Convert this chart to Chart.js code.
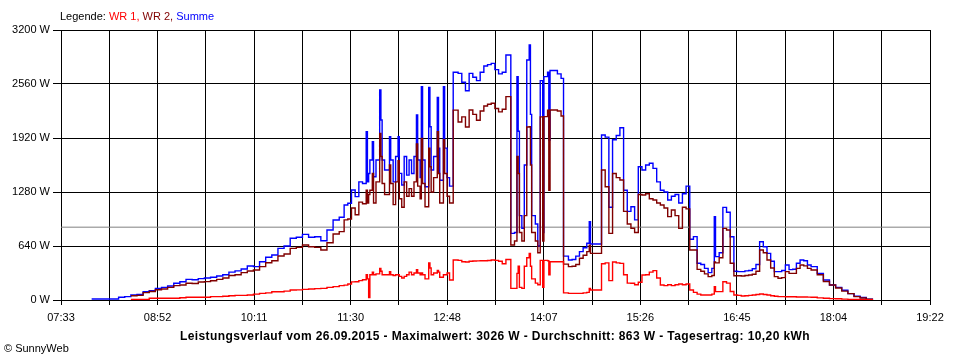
<!DOCTYPE html>
<html>
<head>
<meta charset="utf-8">
<script src="https://cdn.jsdelivr.net/npm/chart.js@4.4.1/dist/chart.umd.min.js"></script>
<style>
  body{margin:0;background:#fff;width:960px;height:360px;position:relative;overflow:hidden;font-family:"Liberation Sans",Arial,sans-serif;color:#000}
  #box{position:absolute;left:0;top:0;width:960px;height:360px}
  #legend{position:absolute;left:60px;top:10px;font-size:11px;white-space:nowrap}
  #caption{position:absolute;left:0;width:990px;top:329px;text-align:center;font-size:12px;letter-spacing:0.4px;font-weight:bold;white-space:nowrap}
  #copy{position:absolute;left:4px;top:342px;font-size:11px;white-space:nowrap}
</style>
</head>
<body>
<div id="box"><canvas id="chart" width="960" height="360"></canvas></div>
<div id="legend">Legende: <span style="color:#ff0000">WR 1,</span> <span style="color:#800000">WR 2,</span> <span style="color:#0000ff">Summe</span></div>
<div id="caption">Leistungsverlauf vom 26.09.2015 - Maximalwert: 3026 W - Durchschnitt: 863 W - Tagesertrag: 10,20 kWh</div>
<div id="copy">&copy; SunnyWeb</div>
<script>
// x axis: 07:33 .. 19:22, labels on every second grid line
const xLabels = ['07:33','08:52','10:11','11:30','12:48','14:07','15:26','16:45','18:04','19:22'];
const yTicks = [0, 640, 1280, 1920, 2560, 3200];
const average = 863; // W, grey line

// sample times (one row per block)
const times = [
  '07:58','08:05','08:10','08:15','08:20','08:25','08:30','08:35','08:40','08:45','08:50','08:55',
  '09:00','09:05','09:10','09:15','09:20','09:25','09:30','09:35','09:40','09:45','09:50','09:55',
  '10:00','10:05','10:10','10:15','10:20','10:25','10:30','10:35','10:40','10:45','10:50','10:55',
  '11:00','11:05','11:10','11:15','11:20','11:24','11:27','11:30','11:33','11:36','11:39','11:42','11:43','11:44','11:45','11:47','11:48','11:50','11:53','11:54','11:55','11:57',
  '12:01','12:02','12:04','12:06','12:08','12:09','12:11','12:13','12:15','12:17','12:19','12:21','12:23','12:24','12:26','12:27','12:28','12:30','12:33','12:34','12:35','12:37','12:40','12:41','12:42','12:45','12:46','12:48','12:50','12:53','12:57',
  '13:00','13:03','13:06','13:09','13:12','13:15','13:18','13:21','13:24','13:27','13:30','13:33','13:36','13:40','13:43','13:45','13:46','13:47','13:49','13:51','13:53','13:55','13:56','13:57',
  '14:00','14:02','14:04','14:06','14:07','14:10','14:11','14:12','14:18','14:21','14:23','14:27','14:30','14:33','14:36','14:39','14:42','14:44','14:45','14:54','14:57',
  '15:00','15:03','15:06','15:09','15:12','15:15','15:18','15:21','15:24','15:27','15:30','15:33','15:36','15:39','15:42','15:45','15:48','15:51','15:54','15:57',
  '16:00','16:03','16:06','16:09','16:12','16:15','16:18','16:21','16:24','16:26','16:27','16:30','16:33','16:36','16:39','16:42','16:45','16:48','16:51','16:54','16:57',
  '17:00','17:03','17:06','17:09','17:12','17:15','17:18','17:21','17:24','17:27','17:30','17:33','17:36','17:39','17:42','17:45',
  '17:50','17:55','18:00','18:05','18:10','18:15','18:20','18:25','18:30','18:35'
];

// WR 1 (W)
const wr1 = [
  null,null,null,null,null,null,8,8,8,20,20,20,
  20,20,26,32,32,32,32,40,40,45,50,55,
  55,60,70,79,85,98,98,105,118,120,126,130,
  135,138,150,158,170,176,190,215,217,230,240,300,250,30,300,330,300,310,375,340,300,300,
  336,300,290,300,300,280,260,280,300,330,300,320,360,320,300,320,300,250,440,380,300,320,350,330,270,300,300,320,237,474,470,
  454,450,460,462,464,466,466,468,474,470,460,430,480,138,138,316,400,150,138,400,500,553,400,250,
  200,180,470,150,470,465,300,454,454,454,85,79,79,79,79,85,90,138,119,430,440,
  230,450,440,434,300,200,198,180,210,296,300,330,348,260,178,170,180,170,180,190,
  180,190,119,90,70,59,59,59,70,158,99,99,217,200,100,59,55,47,50,55,59,
  65,71,65,60,50,45,40,40,38,38,38,36,36,35,34,32,
  25,20,16,14,10,8,6,4,3,1
];

// WR 2 (W)
const wr2 = [
  null,null,null,null,null,null,50,55,87,100,122,130,
  150,170,178,198,195,213,218,229,245,260,290,300,
  324,344,356,395,442,466,521,545,612,624,652,632,
  624,593,679,782,810,950,960,1090,1010,1160,1140,1300,1150,1250,1300,1500,1150,1400,1975,1700,1380,1250,
  1600,1380,1130,1400,1650,1200,1100,1400,1230,1320,1230,1400,1850,1350,1200,1916,1380,1106,1800,1580,1280,1450,1995,1500,1150,1900,1500,1230,1150,2250,2110,
  2170,2050,2252,2200,2130,2240,2300,2320,2331,2270,2230,2260,2410,652,700,1700,1500,800,700,1000,2050,2054,1600,800,
  700,560,2170,700,2173,2250,1300,2252,2240,2180,425,395,400,420,494,530,573,650,553,1540,1343,
  790,1500,1450,1422,1050,900,850,800,1250,1244,1260,1200,1185,1150,1126,1090,988,1067,1000,849,
  1100,1080,593,593,363,340,310,277,290,450,440,500,849,830,435,288,288,284,290,296,305,
  340,593,560,474,380,277,257,265,336,316,316,375,415,405,375,356,
  300,220,178,142,105,75,40,24,10,4
];

// Summe (W)
const summe = [
  12,12,12,12,32,40,59,65,98,110,138,150,
  166,198,217,245,240,253,260,269,285,300,330,345,
  367,403,395,454,506,533,612,640,731,743,778,743,
  750,703,830,948,980,1126,1146,1304,1225,1400,1380,1995,1400,1500,1659,1876,1460,1660,2489,2133,1660,1541,
  1935,1660,1400,1700,1935,1501,1363,1700,1480,1660,1500,1700,2193,1660,1450,2528,1660,1343,2520,2054,1541,1700,2400,1800,1420,2528,1800,1450,1350,2700,2686,
  2580,2480,2686,2640,2600,2700,2773,2790,2805,2730,2680,2700,2904,790,800,2647,2000,1000,850,1600,2845,3022,2200,1000,
  900,640,2600,800,2647,2700,1896,2720,2680,2627,520,474,480,520,573,620,672,928,664,1955,1930,
  1100,1900,1950,2042,1300,1050,1106,950,1580,1541,1600,1620,1560,1400,1300,1280,1185,1230,1250,1150,
  1260,1350,720,751,435,420,375,324,375,988,514,560,1098,1040,750,340,336,336,345,350,370,
  420,691,632,553,460,336,336,350,415,360,365,435,474,465,415,395,
  316,237,178,150,115,75,45,30,10,5
];

const toMin = s=>{ const [h,m] = s.split(':').map(Number); return h*60+m; };
const xStart = toMin(xLabels[0]), xEnd = toMin(xLabels[xLabels.length-1]);
const xs = times.map(toMin);
const pts = arr=>arr.map((v,i)=>({x:xs[i], y:v}));

new Chart(document.getElementById('chart'), {
  type:'line',
  data:{datasets:[
    {label:'WR 1', data:pts(wr1), borderColor:'#ff0000', order:1},
    {label:'WR 2', data:pts(wr2), borderColor:'#800000', order:2},
    {label:'Summe', data:pts(summe), borderColor:'#0000ff', order:3},
    {label:'Durchschnitt', data:[{x:xStart,y:average},{x:xEnd,y:average}], borderColor:'#808080', borderWidth:1, stepped:false, order:4}
  ]},
  options:{
    responsive:false, animation:false,
    layout:{padding:{left:0, right:30, top:30, bottom:0}},
    elements:{line:{borderWidth:1.4, stepped:true, tension:0}, point:{radius:0, hitRadius:0}},
    plugins:{legend:{display:false}, tooltip:{enabled:false}},
    scales:{
      x:{
        type:'linear', min:xStart, max:xEnd,
        afterBuildTicks:s=>{
          const n = (xLabels.length-1)*2;
          s.ticks = Array.from({length:n+1}, (_,i)=>({value: xStart + i*(xEnd-xStart)/n}));
        },
        afterFit:s=>{ s.height = 60; },
        ticks:{autoSkip:false, maxRotation:0, color:'#000', padding:6,
          font:{family:'"Liberation Sans", Arial, sans-serif', size:11},
          callback:(v,i)=> i%2===0 ? xLabels[i/2] : ''},
        grid:{color:'#000', lineWidth:1, tickLength:5},
        border:{color:'#000'}
      },
      y:{
        min:0, max:3200,
        afterBuildTicks:s=>{ s.ticks = yTicks.map(v=>({value:v})); },
        afterFit:s=>{ s.width = 61; },
        ticks:{color:'#000', padding:3,
          font:{family:'"Liberation Sans", Arial, sans-serif', size:11},
          callback:v=>v+' W'},
        grid:{color:'#000', lineWidth:1, tickLength:8},
        border:{color:'#000'}
      }
    }
  }
});
</script>
</body>
</html>
